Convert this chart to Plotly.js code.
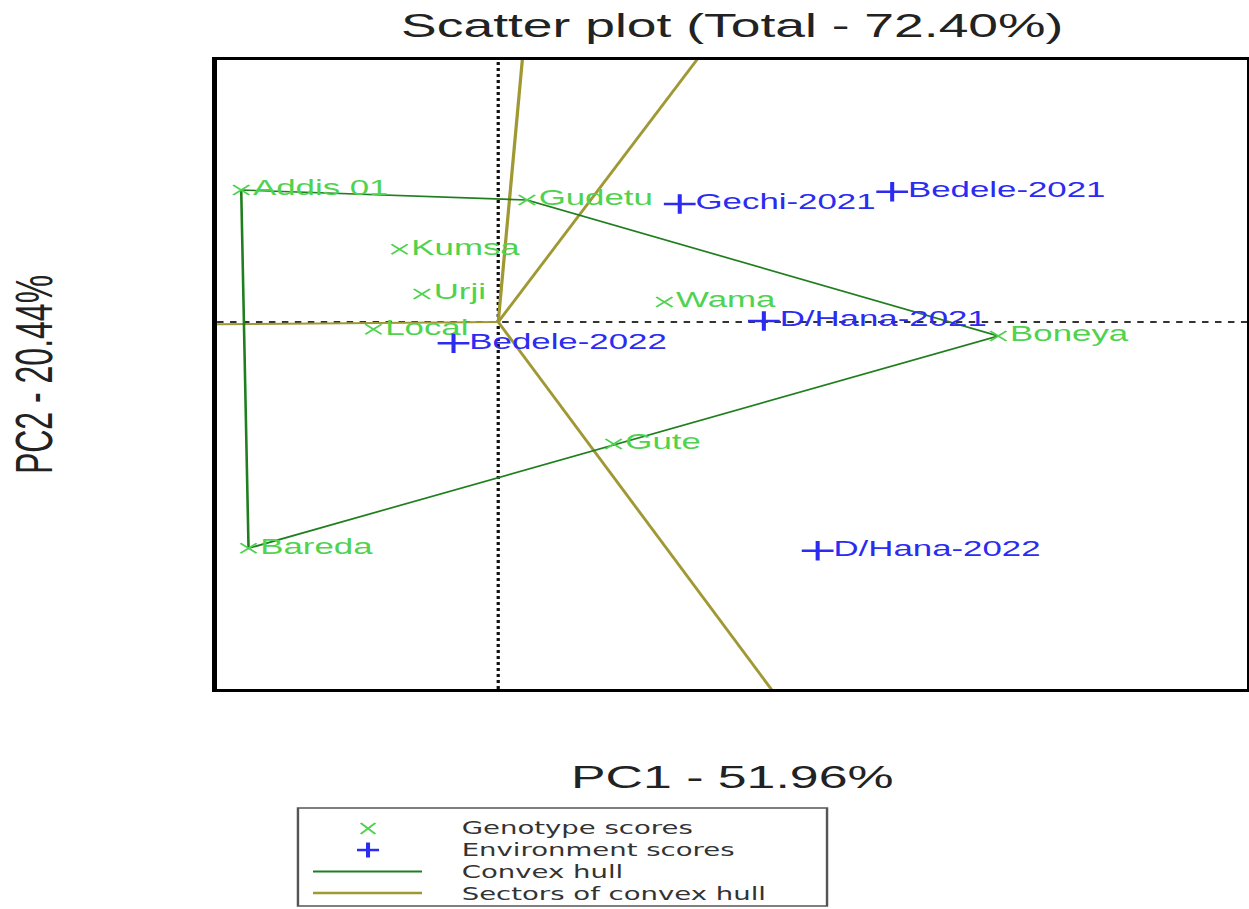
<!DOCTYPE html>
<html>
<head>
<meta charset="utf-8">
<script src="https://cdn.plot.ly/plotly-3.0.1.min.js"></script>
<style>
  html, body { margin: 0; padding: 0; background: #fff; overflow: hidden; }
  /* the reference picture is stretched horizontally; reproduce that look */
  #chart { width: 771px; height: 909px; transform: scaleX(1.62); transform-origin: 0 0; }
</style>
</head>
<body>
<div id="chart"></div>
<script>
// ---- data (PC scores) ----
const genotypes = ['Addis 01', 'Gudetu', 'Kumsa', 'Urji', 'Local', 'Wama', 'Boneya', 'Gute', 'Bareda'];
const genoPC1 = [-1.586, 0.177, -0.609, -0.471, -0.770, 1.025, 3.086, 0.712, -1.541];
const genoPC2 = [1.320, 1.220, 0.727, 0.280, -0.073, 0.200, -0.140, -1.220, -2.263];

const environments = ['Gechi-2021', 'Bedele-2021', 'D/Hana-2021', 'Bedele-2022', 'D/Hana-2022'];
const envPC1 = [1.120, 2.431, 1.639, -0.276, 1.971];
const envPC2 = [1.180, 1.303, 0.010, -0.213, -2.287];

const hullVertices = ['Addis 01', 'Gudetu', 'Boneya', 'Bareda'];

const titleText = 'Scatter plot (Total - 72.40%)';
const xTitle = 'PC1 - 51.96%';
const yTitle = 'PC2 - 20.44%';
const legendNames = ['Genotype scores', 'Environment scores', 'Convex hull', 'Sectors of convex hull'];

// ---- derived geometry ----
const hx = [], hy = [];
hullVertices.forEach(n => { const i = genotypes.indexOf(n); hx.push(genoPC1[i]); hy.push(genoPC2[i]); });
hx.push(hx[0]); hy.push(hy[0]);

// sector rays: from origin, perpendicular to each hull edge, extended
const sx = [], sy = [];
for (let k = 0; k < hullVertices.length; k++) {
  const ax = hx[k], ay = hy[k], bx = hx[k + 1], by = hy[k + 1];
  const dx = bx - ax, dy = by - ay;
  const t = -(ax * dx + ay * dy) / (dx * dx + dy * dy);
  const px = ax + t * dx, py = ay + t * dy;
  const len = Math.sqrt(px * px + py * py);
  sx.push(0, px / len * 50, null);
  sy.push(0, py / len * 50, null);
}

const FONT = 'Liberation Sans, Arial, sans-serif';
const GREEN = '#4fd34f';
const BLUE = '#2b2bf2';
const HULL = '#1f7f1f';
const SECT = '#9f9833';

const traces = [
  {
    type: 'scatter', mode: 'lines', name: legendNames[3],
    x: sx, y: sy, line: { color: SECT, width: 2 }, hoverinfo: 'skip'
  },
  {
    type: 'scatter', mode: 'lines', name: legendNames[2],
    x: hx, y: hy, line: { color: HULL, width: 1.6 }, hoverinfo: 'skip'
  },
  {
    type: 'scatter', mode: 'markers+text', name: legendNames[0],
    x: genoPC1, y: genoPC2, text: genotypes, textposition: 'middle right',
    textfont: { family: FONT, size: 21.5, color: GREEN },
    marker: { symbol: 'x-thin', size: 10, color: GREEN, line: { color: GREEN, width: 1.5 } }
  },
  {
    type: 'scatter', mode: 'markers+text', name: legendNames[1],
    x: envPC1, y: envPC2, text: environments, textposition: 'middle right',
    textfont: { family: FONT, size: 21.5, color: BLUE },
    marker: { symbol: 'cross-thin', size: 14, color: BLUE, line: { color: BLUE, width: 2.5 } }
  }
];

// ---- boxed key below the plot (paper coordinates) ----
const keyBox = { x0: 0.0785, x1: 0.592, y0: -0.345, y1: -0.1892 };
const keyRows = [-0.2218, -0.2560, -0.2901, -0.3243];
const keyTextMid = -0.2727;
const keySymX = 0.1465, keyLineX0 = 0.0931, keyLineX1 = 0.1989, keyTextX = 0.2338;
const xHalf = [0.0071, 0.0087], plusHalf = [0.0107, 0.0119];

const shapes = [
  { type: 'line', xref: 'x', yref: 'paper', x0: 0, x1: 0, y0: 0, y1: 1, layer: 'below',
    line: { color: '#111', width: 2, dash: 'dot' } },
  { type: 'line', xref: 'paper', yref: 'y', x0: 0, x1: 1, y0: 0, y1: 0, layer: 'below',
    line: { color: '#333', width: 2, dash: '4px,4px' } },
  { type: 'rect', xref: 'paper', yref: 'paper', x0: keyBox.x0, x1: keyBox.x1, y0: keyBox.y0, y1: keyBox.y1,
    line: { color: '#555', width: 1.5 }, fillcolor: 'rgba(0,0,0,0)' },
  // genotype key (x)
  { type: 'line', xref: 'paper', yref: 'paper', x0: keySymX - xHalf[0], x1: keySymX + xHalf[0],
    y0: keyRows[0] - xHalf[1], y1: keyRows[0] + xHalf[1], line: { color: GREEN, width: 1.5 } },
  { type: 'line', xref: 'paper', yref: 'paper', x0: keySymX - xHalf[0], x1: keySymX + xHalf[0],
    y0: keyRows[0] + xHalf[1], y1: keyRows[0] - xHalf[1], line: { color: GREEN, width: 1.5 } },
  // environment key (+)
  { type: 'line', xref: 'paper', yref: 'paper', x0: keySymX - plusHalf[0], x1: keySymX + plusHalf[0],
    y0: keyRows[1], y1: keyRows[1], line: { color: BLUE, width: 2.5 } },
  { type: 'line', xref: 'paper', yref: 'paper', x0: keySymX, x1: keySymX,
    y0: keyRows[1] - plusHalf[1], y1: keyRows[1] + plusHalf[1], line: { color: BLUE, width: 2.5 } },
  // line keys
  { type: 'line', xref: 'paper', yref: 'paper', x0: keyLineX0, x1: keyLineX1, y0: keyRows[2], y1: keyRows[2],
    line: { color: HULL, width: 2 } },
  { type: 'line', xref: 'paper', yref: 'paper', x0: keyLineX0, x1: keyLineX1, y0: keyRows[3], y1: keyRows[3],
    line: { color: SECT, width: 2.5 } }
];

const annotations = [{
  xref: 'paper', yref: 'paper', x: keyTextX, y: keyTextMid, xanchor: 'left', yanchor: 'middle',
  align: 'left', text: legendNames.join('<br>'), showarrow: false,
  font: { family: 'DejaVu Sans, Liberation Sans, sans-serif', size: 17, color: '#333' }
}];

const layout = {
  width: 771, height: 909,
  margin: { l: 134, r: 1, t: 60, b: 220, autoexpand: false },
  paper_bgcolor: '#fff', plot_bgcolor: '#fff',
  font: { family: FONT, color: '#222' },
  showlegend: false,
  title: {
    text: titleText, font: { family: FONT, size: 33, color: '#222' },
    xref: 'paper', x: 0.5, xanchor: 'center', yref: 'container', y: 0.9725, yanchor: 'middle'
  },
  xaxis: {
    range: [-1.735, 4.623], showgrid: false, zeroline: false, showticklabels: false, ticks: '',
    showline: true, mirror: true, linecolor: '#000', linewidth: 3, automargin: false,
    title: { text: xTitle, font: { family: FONT, size: 32, color: '#222' }, standoff: 75 }
  },
  yaxis: {
    range: [-3.67, 2.62], showgrid: false, zeroline: false, showticklabels: false, ticks: '',
    showline: true, mirror: true, linecolor: '#000', linewidth: 3, automargin: false,
    title: { text: yTitle, font: { family: FONT, size: 32, color: '#222' }, standoff: 89 }
  },
  shapes: shapes,
  annotations: annotations
};

Plotly.newPlot('chart', traces, layout, { staticPlot: true, displayModeBar: false });
</script>
</body>
</html>
